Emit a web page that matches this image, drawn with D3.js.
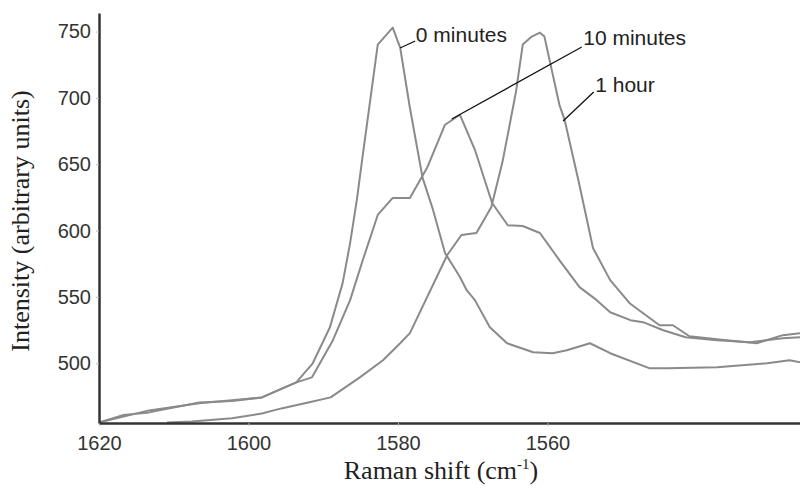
<!DOCTYPE html>
<html>
<head>
<meta charset="utf-8">
<title>Raman spectra</title>
<style>
  body { margin: 0; background: #fff; }
  svg { display: block; }
</style>
</head>
<body>
<script src="https://cdn.jsdelivr.net/npm/d3@7"></script>
<script>
// Raman shift (cm-1) and intensity
var shift0 = [1620, 1613.3, 1606.6, 1602.2, 1598.2, 1593.6, 1591.4, 1589.1, 1587.4, 1586.4, 1585.5, 1584.7, 1582.7, 1580.7, 1579.7, 1578.4, 1576.7, 1575.3, 1573.7, 1571.7, 1570.8, 1569.7, 1567.7, 1565.4, 1561.9, 1559.3, 1557.4, 1554.3, 1551.6, 1546.3, 1544.0, 1537.3, 1530.6, 1527.6, 1526.2];
var int0   = [455.4, 464.5, 469.8, 472.1, 474.3, 485.6, 500, 527.2, 560.4, 590.6, 623.1, 657.1, 740.2, 753, 737.9, 692.6, 639.7, 615.6, 583.1, 565.0, 555.1, 547.6, 527.2, 515.1, 508.3, 507.6, 509.8, 515.1, 507.6, 496.2, 496.2, 497, 500, 502.3, 500.8];

var shift10 = [1620, 1616.7, 1613.3, 1606.6, 1602.2, 1598.2, 1593.6, 1591.5, 1588.7, 1586.4, 1584.7, 1582.7, 1580.7, 1578.4, 1576.1, 1573.7, 1571.7, 1569.7, 1567.4, 1565.3, 1563.3, 1561.0, 1558.4, 1555.7, 1553.4, 1551.6, 1548.9, 1547.2, 1544.5, 1541.5, 1537.3, 1532.9, 1528.5, 1526.2];
var int10   = [455.4, 461, 463, 470.5, 471.5, 474.3, 485.6, 489.4, 517.4, 547.6, 577.8, 611.8, 624.6, 624.6, 647.3, 679.8, 687.3, 660.9, 620.8, 604, 603.5, 598.2, 577.8, 557.4, 547.6, 538.5, 532.5, 531.0, 524.9, 519.6, 517.4, 515.9, 518.9, 519.6];

var shift60 = [1610.9, 1607.6, 1602.2, 1598.2, 1595.6, 1592.0, 1589.0, 1585.1, 1582.0, 1579.7, 1578.4, 1573.4, 1571.5, 1569.5, 1567.5, 1566.0, 1564.2, 1563.3, 1562.1, 1561.0, 1560.4, 1558.4, 1557.7, 1555.8, 1553.9, 1551.6, 1549.0, 1545.0, 1543.2, 1541.0, 1537.3, 1532.0, 1528.5, 1526.2];
var int60   = [455.4, 456.2, 458.5, 462.2, 466, 470.5, 474.3, 489.4, 502.3, 515.1, 522.7, 581.6, 596.7, 598.2, 617.8, 652, 704.7, 740.2, 746.2, 749.2, 746.2, 695, 683.5, 636.7, 586.9, 562.7, 545.3, 528.7, 528.7, 520.4, 518.1, 515.1, 521.2, 522.7];

var xTicks = [1620, 1600, 1580, 1560];
var yTicks = [500, 550, 600, 650, 700, 750];

// labels with leader lines: [text, line start (shift, int), line end, text anchor]
var notes = [
  ["0 minutes",  1579.7, 737.6, 1577.7, 742.9, 1577.6, 742.1],
  ["10 minutes", 1572.8, 684.1, 1555.4, 738.4, 1555.2, 739.9],
  ["1 hour",     1557.9, 682.6, 1553.8, 704.5, 1553.6, 704.5]
];

var W = 800, H = 489;
var margin = {top: 13, right: 0, bottom: 66, left: 99};

var svg = d3.select("body").append("svg")
  .attr("width", W)
  .attr("height", H);

var x = d3.scaleLinear().domain([1620, 1526.2]).range([margin.left, W - margin.right]);
var y = d3.scaleLinear().domain([455, 764]).range([H - margin.bottom, margin.top]);

svg.append("clipPath").attr("id", "plot")
  .append("rect")
  .attr("x", margin.left).attr("y", margin.top)
  .attr("width", W - margin.left - margin.right)
  .attr("height", H - margin.top - margin.bottom);

var line = d3.line()
  .x(function (d) { return x(d[0]); })
  .y(function (d) { return y(d[1]); });

var series = [
  d3.zip(shift0, int0),
  d3.zip(shift10, int10),
  d3.zip(shift60, int60)
];

svg.append("g").attr("clip-path", "url(#plot)")
  .selectAll("path")
  .data(series)
  .enter().append("path")
    .attr("d", line)
    .attr("fill", "none")
    .attr("stroke", "#8a8a8a")
    .attr("stroke-width", 2)
    .attr("stroke-linejoin", "round");

// axes
var xAxis = svg.append("g")
  .attr("transform", "translate(0," + (H - margin.bottom) + ")")
  .call(d3.axisBottom(x).tickValues(xTicks).tickFormat(d3.format("d")).tickSize(3).tickSizeOuter(0));
var yAxis = svg.append("g")
  .attr("transform", "translate(" + margin.left + ",0)")
  .call(d3.axisLeft(y).tickValues(yTicks).tickSize(3).tickSizeOuter(0));

[xAxis, yAxis].forEach(function (g) {
  g.select(".domain").attr("stroke", "#333").attr("stroke-width", 2.5);
  g.selectAll(".tick line").attr("stroke", "#bbb");
  g.selectAll(".tick text")
    .attr("fill", "#333")
    .style("font-family", "Liberation Sans, Arial, sans-serif")
    .style("font-size", "20px");
});
xAxis.selectAll(".tick text").attr("dy", "1.05em");
yAxis.selectAll(".tick text").attr("x", -8);

// axis titles
var xt = svg.append("text")
  .attr("x", 441).attr("y", 479)
  .attr("text-anchor", "middle")
  .attr("fill", "#222")
  .style("font-family", "Liberation Serif, Times New Roman, serif")
  .style("font-size", "26px");
xt.append("tspan").text("Raman shift (cm");
xt.append("tspan").attr("dy", -10).style("font-size", "15px").text("-1");
xt.append("tspan").attr("dy", 10).text(")");

svg.append("text")
  .attr("transform", "translate(29,221) rotate(-90)")
  .attr("text-anchor", "middle")
  .attr("fill", "#222")
  .style("font-family", "Liberation Serif, Times New Roman, serif")
  .style("font-size", "26px")
  .text("Intensity (arbitrary units)");

// leader lines and labels
var ann = svg.append("g").selectAll("g").data(notes).enter().append("g");
ann.append("line")
  .attr("x1", function (d) { return x(d[1]); })
  .attr("y1", function (d) { return y(d[2]); })
  .attr("x2", function (d) { return x(d[3]); })
  .attr("y2", function (d) { return y(d[4]); })
  .attr("stroke", "#111")
  .attr("stroke-width", 1.3);
ann.append("text")
  .attr("x", function (d) { return x(d[5]); })
  .attr("y", function (d) { return y(d[6]); })
  .attr("fill", "#222")
  .style("font-family", "Liberation Sans, Arial, sans-serif")
  .style("font-size", "21px")
  .text(function (d) { return d[0]; });
</script>
</body>
</html>
